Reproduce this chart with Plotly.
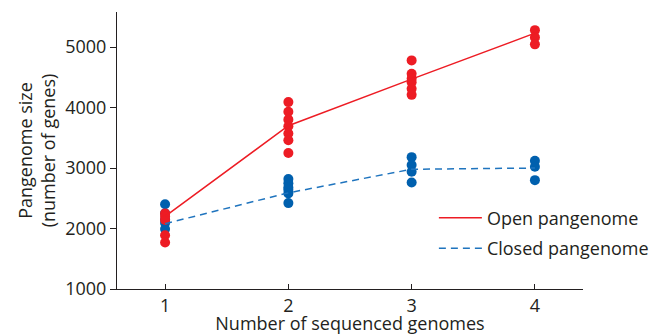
import plotly.graph_objects as go

genomes = [1, 2, 3, 4]

open_points = {
    1: [2250, 2200, 2140, 1890, 1770],
    2: [4090, 3930, 3800, 3690, 3570, 3460, 3250],
    3: [4780, 4560, 4480, 4420, 4310, 4210],
    4: [5280, 5160, 5045],
}
closed_points = {
    1: [2400, 2250, 2150, 2090, 1990],
    2: [2820, 2750, 2680, 2640, 2580, 2420],
    3: [3180, 3050, 2940, 2760],
    4: [3120, 3020, 2800],
}
open_mean = [2200, 3700, 4470, 5230]
closed_mean = [2080, 2590, 2980, 3000]

RED = "#ED1C24"
BLUE = "#0060AE"
INK = "#231F20"
FONT = "Open Sans"

fig = go.Figure()

for k, vals in closed_points.items():
    fig.add_trace(go.Scatter(x=[k] * len(vals), y=vals, mode="markers",
                             marker=dict(color=BLUE, size=10), showlegend=False,
                             hoverinfo="skip"))
for k, vals in open_points.items():
    fig.add_trace(go.Scatter(x=[k] * len(vals), y=vals, mode="markers",
                             marker=dict(color=RED, size=10), showlegend=False,
                             hoverinfo="skip"))

fig.add_trace(go.Scatter(x=genomes, y=open_mean, mode="lines", name="Open pangenome",
                         legendgroup="a", line=dict(color=RED, width=1.5)))
fig.add_trace(go.Scatter(x=genomes, y=closed_mean, mode="lines", name="Closed pangenome",
                         legendgroup="b", line=dict(color="#1F74BE", width=1.5, dash="7px,5px")))

# figure is slightly wider than the 652px window so the legend fits without
# shrinking the plot area; the overflow is hidden.
fig.update_layout(
    width=690, height=335,
    margin=dict(l=117, r=107, t=12, b=46),
    paper_bgcolor="white", plot_bgcolor="white",
    font=dict(family=FONT, size=18, color=INK),
    showlegend=True,
    legend=dict(x=0.680, y=0.323, xanchor="left", yanchor="top", itemwidth=43,
                bgcolor="rgba(0,0,0,0)", font=dict(size=18), tracegroupgap=4),
    xaxis=dict(range=[0.61, 4.39], tickvals=genomes, ticktext=["1", "2", "3", "4"],
               showgrid=False, zeroline=False, showline=True, linecolor=INK,
               linewidth=1, ticks="inside", ticklen=5, tickcolor=INK,
               tickfont=dict(size=18), automargin=False,
               title=dict(text="Number of sequenced genomes", font=dict(size=18), standoff=0),
               fixedrange=True),
    yaxis=dict(range=[1000, 5580], tickvals=[1000, 2000, 3000, 4000, 5000],
               showgrid=False, zeroline=False, showline=True, linecolor=INK,
               linewidth=1, ticks="outside", ticklen=6, tickcolor=INK,
               tickfont=dict(size=18), automargin=False,
               title=dict(text="Pangenome size<br>(number of genes)", font=dict(size=18), standoff=4),
               fixedrange=True),
)

fig.write_html("out.html", config={"displayModeBar": False},
               post_script=("document.documentElement.style.overflow='hidden';"
                            "document.body.style.overflow='hidden';"
                            "document.body.style.margin='0';document.body.style.padding='0';"))
